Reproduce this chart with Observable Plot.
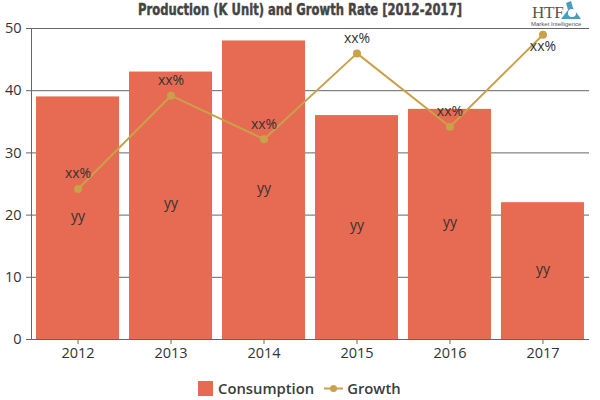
<!DOCTYPE html>
<html><head><meta charset="utf-8">
<script src="https://cdn.jsdelivr.net/npm/d3@7"></script>
<script src="https://cdn.jsdelivr.net/npm/@observablehq/plot@0.6"></script>
<style>
html,body{margin:0;padding:0;background:#fff;width:600px;height:400px;overflow:hidden}
#wrap{position:relative;width:600px;height:400px}
#title{position:absolute;left:0;top:0;width:600px;text-align:center;font:bold 15.5px/20px "DejaVu Sans Condensed","DejaVu Sans",sans-serif;color:#444;-webkit-text-stroke:0.4px #444;transform:scaleX(0.83);white-space:nowrap}
#chart{position:absolute;left:0;top:18px}
#legend{position:absolute;left:198px;top:378px;display:flex;align-items:center;font:600 14.8px/20px "Open Sans",sans-serif;color:#3c3c3c}
#logo{position:absolute;left:531px;top:0;width:60px;height:28px;color:#555}
#logo .h{position:absolute;left:1px;top:3px;font:17px/20px "Liberation Serif",serif;letter-spacing:-0.2px}
#logo .m{position:absolute;left:0;top:20px;font:6px/8px "Liberation Sans",sans-serif;white-space:nowrap}
#logo svg{position:absolute;left:28px;top:0}
</style></head><body>
<div id="wrap">
<div id="title">Production (K Unit) and Growth Rate [2012-2017]</div>
<div id="logo"><span class="h">HTF</span><svg width="24" height="20"><path d="M2 19 L9 10 L7 3 L12 1 L14 8 L22 19 Z" fill="#4a9cc4"/><circle cx="13" cy="13" r="4" fill="#fff"/></svg><span class="m">Market Intelligence</span></div>
<div id="chart"></div>
<div id="legend">
<svg width="15" height="15" style="margin-right:5px"><rect width="15" height="15" fill="#E76B52"/></svg><span>Consumption</span>
<svg width="19" height="15" style="margin:0 4px 0 10px"><line x1="0" x2="19" y1="7.5" y2="7.5" stroke="#C9A14A" stroke-width="2"/><circle cx="9.5" cy="7.5" r="3.5" fill="#C9A14A"/></svg><span>Growth</span>
</div>
</div>
<script>
const years = ["2012","2013","2014","2015","2016","2017"];
const consumption = [39,43,48,36,37,22];
const growth = [24.2,39.2,32.2,46,34.2,49];
const barLabels = ["yy","yy","yy","yy","yy","yy"];
const lineLabels = ["xx%","xx%","xx%","xx%","xx%","xx%"];
const yTicks = [0,10,20,30,40,50];
const rows = years.map((year,i)=>({year,c:consumption[i],g:growth[i],bl:barLabels[i],ll:lineLabels[i]}));
const font = '"Open Sans",sans-serif';
const plot = Plot.plot({
  width:600,height:345,
  marginLeft:31,marginRight:11,marginTop:10,marginBottom:24,
  style:{fontFamily:font,fontSize:"14px",color:"#333",background:"transparent"},
  x:{domain:years,paddingInner:0.107,paddingOuter:0.054,round:false,label:null},
  y:{domain:[0,50],label:null},
  marks:[
    Plot.gridY(yTicks,{stroke:"#666",strokeOpacity:1}),
    Plot.barY(rows,{x:"year",y:"c",fill:"#E76B52"}),
    Plot.frame({anchor:"left",stroke:"#666"}),
    Plot.axisY({ticks:yTicks,tickSize:5,tickPadding:5,stroke:"#666",fontSize:14.5,label:null}),
    Plot.axisX({tickSize:5,tickPadding:3,stroke:"#666",fontSize:14.5,label:null}),
    Plot.line(rows,{x:"year",y:"g",stroke:"#C9A14A",strokeWidth:2}),
    Plot.dot(rows,{x:"year",y:"g",fill:"#C9A14A",r:4}),
    Plot.text(rows,{x:"year",y:d=>d.c/2,text:"bl",dy:-2,fontSize:14,fill:"#333"}),
    Plot.text(rows.filter(d=>d.year!=="2017"),{x:"year",y:"g",text:"ll",dy:-15,fontSize:14,fill:"#333"}),
    Plot.text(rows.filter(d=>d.year==="2017"),{x:"year",y:"g",text:"ll",dy:12,fontSize:14,fill:"#333"})
  ]
});
document.getElementById("chart").append(plot);
</script>
</body></html>
